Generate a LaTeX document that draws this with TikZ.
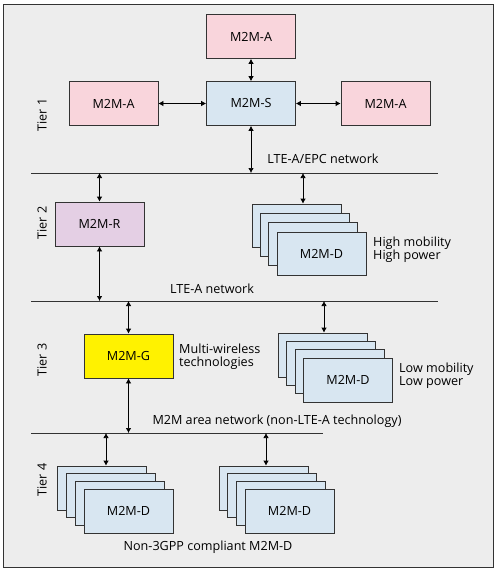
\documentclass[tikz,border=0pt]{standalone}
\usepackage{fontspec}
\setmainfont{Open Sans}
\usetikzlibrary{arrows.meta,calc}
\definecolor{bg}{HTML}{EDEDED}
\definecolor{pinkA}{HTML}{F9D5DC}
\definecolor{blueS}{HTML}{D8E6F1}
\definecolor{lavR}{HTML}{E4CFE4}
\definecolor{yelG}{HTML}{FFF200}
\definecolor{ink}{HTML}{333333}
\tikzset{
  box/.style={draw=ink, line width=0.7pt, minimum width=89pt, minimum height=44pt, inner sep=0pt, font=\fontsize{12.6}{13}\selectfont},
  dbox/.style={box, fill=blueS, minimum height=43pt},
  net/.style={draw=ink, line width=0.8pt},
  link/.style={draw=black, line width=0.7pt, {Latex[length=5pt,width=5.5pt]}-{Latex[length=5pt,width=5.5pt]}},
  lbl/.style={font=\fontsize{12.6}{13}\selectfont, inner sep=0pt},
  tier/.style={font=\fontsize{12.6}{13}\selectfont, rotate=90, inner sep=0pt}
}
\begin{document}
\begin{tikzpicture}[x=1pt,y=-1pt]
\useasboundingbox (0,0) rectangle (499,572);
\draw[draw=ink, line width=0.9pt, fill=bg] (3,4) rectangle (493,567);
% Tier 1
\node[box, fill=pinkA] (Atop) at (251,36.5) {M2M-A};
\node[box, fill=pinkA] (Aleft) at (113.5,103.5) {M2M-A};
\node[box, fill=blueS] (S) at (251,103.5) {M2M-S};
\node[box, fill=pinkA] (Aright) at (385.5,103.5) {M2M-A};
\draw[link] (Atop) -- (S);
\draw[link] (Aleft) -- (S);
\draw[link] (S) -- (Aright);
\coordinate (n1l) at (31,173);
\coordinate (n1r) at (438,173);
\draw[net] (n1l) -- (n1r);
\draw[link] (S.south) -- (S.south |- n1l);
\node[lbl] (l1) at (323,159) {LTE-A/EPC network};
\node[tier] (t1) at (42,115) {Tier 1};
% Tier 2
\node[box, fill=lavR] (R) at (99.5,224) {M2M-R};
\foreach \i in {0,1,2,3}
  \node[dbox] (hd\i) at ({296.5+8.33*\i},{225.5+9.33*\i}) {};
\node[lbl] (hdtxt) at (hd3) {M2M-D};
\coordinate (a2) at (303,173);
\draw[link] (R.north |- n1l) -- (R.north);
\draw[link] (a2) -- (a2 |- hd0.north);
\node[lbl, align=left, anchor=west] (hm) at (373,249.5) {High mobility\\High power};
\node[tier] (t2) at (42,223) {Tier 2};
\coordinate (n2l) at (31,301);
\coordinate (n2r) at (438,301);
\draw[net] (n2l) -- (n2r);
\draw[link] (R.south) -- (R.south |- n2l);
\node[lbl] (l2) at (212,289) {LTE-A network};
% Tier 3
\node[box, fill=yelG] (G) at (128.5,356) {M2M-G};
\foreach \i in {0,1,2,3}
  \node[dbox, minimum height=44pt] (ld\i) at ({323+8.33*\i},{355+8.33*\i}) {};
\node[lbl] (ldtxt) at (ld3) {M2M-D};
\coordinate (a3) at (324,301);
\draw[link] (G.north |- n2l) -- (G.north);
\draw[link] (a3) -- (a3 |- ld0.north);
\node[lbl, align=left, anchor=west] (mw) at (179,356.5) {Multi-wireless\\technologies};
\node[lbl, align=left, anchor=west] (lm) at (399,376) {Low mobility\\Low power};
\node[tier] (t3) at (42,360) {Tier 3};
\coordinate (n3l) at (31,433);
\coordinate (n3r) at (323,433);
\draw[net] (n3l) -- (n3r);
\draw[link] (G.south) -- (G.south |- n3l);
\node[lbl] (l3) at (277,421) {M2M area network (non-LTE-A technology)};
% Tier 4
\foreach \i in {0,1,2,3}
  \node[dbox, minimum height=44pt] (pa\i) at ({101.5+9*\i},{488+7.67*\i}) {};
\node[lbl] (patxt) at (pa3) {M2M-D};
\foreach \i in {0,1,2,3}
  \node[dbox, minimum height=44pt] (pb\i) at ({263.5+8.67*\i},{488+7.67*\i}) {};
\node[lbl] (pbtxt) at (pb3) {M2M-D};
\coordinate (a4a) at (106,433);
\coordinate (a4b) at (266,433);
\draw[link] (a4a) -- (a4a |- pa0.north);
\draw[link] (a4b) -- (a4b |- pb0.north);
\node[lbl] (l4) at (208,547) {Non-3GPP compliant M2M-D};
\node[tier] (t4) at (42,480) {Tier 4};
\end{tikzpicture}
\end{document}
